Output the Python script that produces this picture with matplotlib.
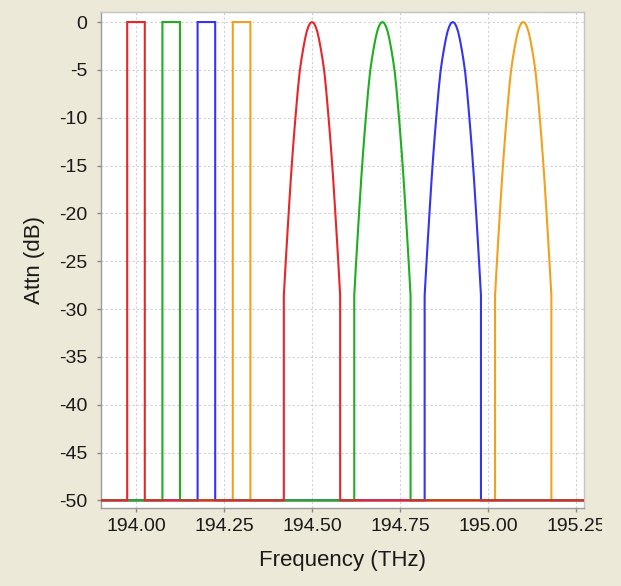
import matplotlib
matplotlib.use('Agg')
import matplotlib.pyplot as plt
import numpy as np
from matplotlib.transforms import Bbox, TransformedBbox

# ---- data ----
channel_colors = ['#e8262a', '#1fae1f', '#3434f5', '#f2a11f']
rect_low = [193.975, 194.075, 194.175, 194.275]
rect_high = [194.025, 194.125, 194.225, 194.325]
peak_center = [194.50, 194.70, 194.90, 195.10]
floor_db = -50.0
pass_db = 0.0
sweep_start = 193.85
sweep_stop = 195.35

# one-sided shape of the bell-shaped passbands (offset THz, attenuation dB)
profile_offset = [0.000, 0.005, 0.010, 0.015, 0.020, 0.025, 0.030, 0.035, 0.040,
                  0.045, 0.050, 0.055, 0.060, 0.065, 0.070, 0.075, 0.080]
profile_db = [0.0, -0.1, -0.45, -1.0, -1.8, -2.8, -3.9, -5.2, -7.0,
              -9.1, -11.3, -13.7, -16.3, -19.2, -22.2, -25.3, -28.6]

x_ticks = [194.00, 194.25, 194.50, 194.75, 195.00, 195.25]
x_tick_labels = ['194.00', '194.25', '194.50', '194.75', '195.00', '195.25']
y_ticks = [0, -5, -10, -15, -20, -25, -30, -35, -40, -45, -50]
y_tick_labels = ['0', '-5', '-10', '-15', '-20', '-25', '-30', '-35', '-40', '-45', '-50']

x_label = 'Frequency (THz)'
y_label = 'Attn (dB)'

# ---- figure ----
W, H = 621, 586
bg = '#ece9d8'
fig = plt.figure(figsize=(W / 100, H / 100), dpi=100, facecolor=bg)
ax = fig.add_axes([101 / W, 78 / H, 483 / W, 496 / H])
ax.set_facecolor('white')

po = np.array(profile_offset)
pdb = np.array(profile_db)
shape_off = np.concatenate([-po[::-1], po[1:]])
shape_db = np.concatenate([pdb[::-1], pdb[1:]])
edge = po[-1]

for i in reversed(range(len(channel_colors))):
    c = peak_center[i]
    xs = np.concatenate([[sweep_start, rect_low[i], rect_low[i], rect_high[i], rect_high[i], c - edge],
                         c + shape_off,
                         [c + edge, sweep_stop]])
    ys = np.concatenate([[floor_db, floor_db, pass_db, pass_db, floor_db, floor_db],
                         shape_db,
                         [floor_db, floor_db]])
    ax.plot(xs, ys, color=channel_colors[i], lw=1.5, solid_joinstyle='miter', zorder=3)

ax.set_xlim(193.9006, 195.2727)
ax.set_ylim(-50.8, 1.05)
ax.set_xticks(x_ticks)
ax.set_xticklabels(x_tick_labels)
ax.set_yticks(y_ticks)
ax.set_yticklabels(y_tick_labels)

ax.grid(True, color='#d2d2d2', linestyle=(0, (2, 2)), linewidth=0.8, zorder=0)
ax.set_axisbelow(True)

for s in ['left', 'bottom']:
    ax.spines[s].set_color('#9a9a9a')
for s in ['top', 'right']:
    ax.spines[s].set_color('#c4c4c4')
for s in ax.spines.values():
    s.set_linewidth(1.0)

font = 'Liberation Sans'
ax.tick_params(axis='both', direction='out', length=3, width=1, color='#8a8a8a',
               labelsize=14, labelcolor='#1a1a1a')
ax.tick_params(axis='x', pad=4)
ax.tick_params(axis='y', pad=7)
for lab in ax.get_xticklabels() + ax.get_yticklabels():
    lab.set_fontfamily(font)

ax.set_xlabel(x_label, fontsize=16, family=font, color='#1a1a1a', labelpad=11)
ax.set_ylabel(y_label, fontsize=16, family=font, color='#1a1a1a', labelpad=10)

# the last x tick label is clipped by the panel edge
clip = TransformedBbox(Bbox([[0, 0], [602 / W, 1]]), fig.transFigure)
for lab in ax.get_xticklabels():
    lab.set_clip_on(True)
    lab.set_clip_box(clip)

fig.savefig('out.png', dpi=100, facecolor=bg)
